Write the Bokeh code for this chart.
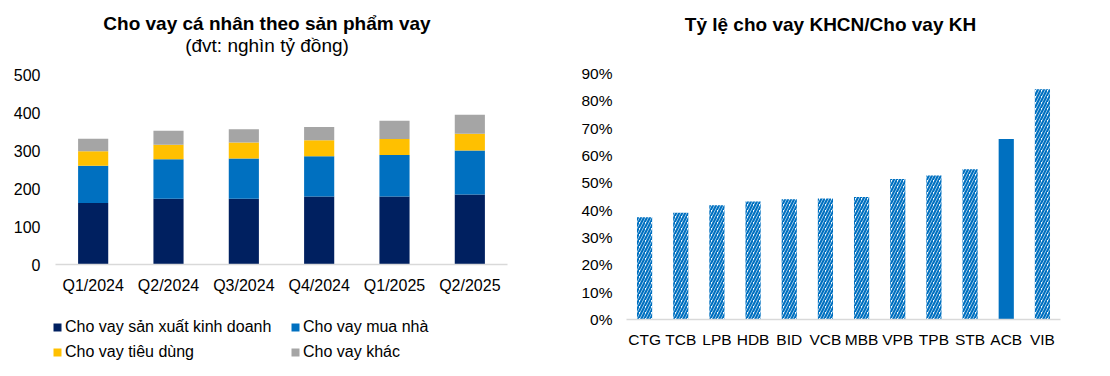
from bokeh.plotting import figure
from bokeh.models import (ColumnDataSource, Range1d, FactorRange, Legend, LegendItem,
                          Label, FixedTicker, NumeralTickFormatter)
from bokeh.layouts import row, column
from bokeh.embed import file_html
from bokeh.resources import INLINE

FONT = "Liberation Sans"

# ---------------- data ----------------
quarters = ["Q1/2024", "Q2/2024", "Q3/2024", "Q4/2024", "Q1/2025", "Q2/2025"]
sxkd = [162, 173, 173, 179, 179, 184]        # Cho vay sản xuất kinh doanh
mua_nha = [98, 104, 106, 106, 109, 116]      # Cho vay mua nhà
tieu_dung = [38, 38, 42, 42, 42, 44]         # Cho vay tiêu dùng
khac = [33, 37, 35, 35, 48, 50]              # Cho vay khác
left_ticks = [0, 100, 200, 300, 400, 500]

series_names = ["Cho vay sản xuất kinh doanh", "Cho vay mua nhà",
                "Cho vay tiêu dùng", "Cho vay khác"]
series_colors = ["#002060", "#0070C0", "#FFC000", "#A5A5A5"]

banks = ["CTG", "TCB", "LPB", "HDB", "BID", "VCB", "MBB", "VPB", "TPB", "STB", "ACB", "VIB"]
ratio_pct = [37.4, 39.1, 41.8, 43.2, 44.0, 44.3, 44.8, 51.4, 52.7, 55.0, 66.0, 84.2]
right_ticks_pct = [0, 10, 20, 30, 40, 50, 60, 70, 80, 90]
highlight = "ACB"

stack_fields = ["sxkd", "mua", "tieu", "khac"]

# ---------------- left chart ----------------
L_H, L_BOTTOM, L_TOP_TICK_PX = 300, 36, 74       # figure height, bottom border, pixel row of top tick
l_frame_h = L_H - L_BOTTOM
l_yend = left_ticks[-1] * l_frame_h / (l_frame_h - L_TOP_TICK_PX)

src = ColumnDataSource(dict(q=quarters, sxkd=sxkd, mua=mua_nha, tieu=tieu_dung, khac=khac))

p1 = figure(x_range=FactorRange(*quarters, range_padding=0), y_range=Range1d(0, l_yend),
            width=555, height=L_H, output_backend="svg", toolbar_location=None,
            min_border_left=55, min_border_right=48, min_border_top=0,
            min_border_bottom=L_BOTTOM)

rs = p1.vbar_stack(stack_fields, x="q", width=0.4, source=src,
                   fill_color=series_colors, line_color=None)

p1.yaxis.ticker = FixedTicker(ticks=left_ticks)
p1.yaxis.major_label_standoff = 15

p1.add_layout(Label(x=211.5, y=l_frame_h - 23, x_units="screen", y_units="screen",
                    text="Cho vay cá nhân theo sản phẩm vay", text_align="center",
                    text_baseline="middle", text_font=FONT, text_font_size="19px",
                    text_font_style="bold", text_color="#000000"))
p1.add_layout(Label(x=211.5, y=l_frame_h - 45, x_units="screen", y_units="screen",
                    text="(đvt: nghìn tỷ đồng)", text_align="center",
                    text_baseline="middle", text_font=FONT, text_font_size="19px",
                    text_color="#000000"))

# ---------------- legend panel (below left chart) ----------------
# same stacked renderers, hidden in this panel; only their legend swatches are shown
p_leg = figure(width=555, height=76, x_range=FactorRange(*quarters), y_range=Range1d(-2, -1),
               x_axis_type=None, y_axis_type=None, output_backend="svg",
               toolbar_location=None, min_border=0, outline_line_color=None)
p_leg.frame_align = False
p_leg.xgrid.grid_line_color = None
p_leg.ygrid.grid_line_color = None
leg_rs = p_leg.vbar_stack(stack_fields, x="q", width=0.4, source=src,
                          fill_color=series_colors, line_color=None)
for r in leg_rs:
    r.visible = False
order = [0, 2, 1, 3]
legend = Legend(items=[LegendItem(label=series_names[i], renderers=[leg_rs[i]]) for i in order],
                ncols=2, location=(52, 14), click_policy="none",
                label_text_font=FONT, label_text_font_size="16px", label_text_color="#000000",
                glyph_width=10, glyph_height=10, label_standoff=3, spacing=5,
                label_height=20, label_width=220, padding=0, margin=0,
                border_line_color=None, background_fill_alpha=0)
p_leg.add_layout(legend, "center")

# ---------------- right chart ----------------
ratio = [v / 100 for v in ratio_pct]
right_ticks = [t / 100 for t in right_ticks_pct]
R_H, R_BOTTOM, R_TOP_TICK_PX = 376, 57, 73
r_frame_h = R_H - R_BOTTOM
r_yend = right_ticks[-1] * r_frame_h / (r_frame_h - R_TOP_TICK_PX)

hatched = ColumnDataSource(dict(b=[b for b in banks if b != highlight],
                                v=[v for b, v in zip(banks, ratio) if b != highlight]))
solid = ColumnDataSource(dict(b=[b for b in banks if b == highlight],
                              v=[v for b, v in zip(banks, ratio) if b == highlight]))

p2 = figure(x_range=FactorRange(*banks, range_padding=0), y_range=Range1d(0, r_yend),
            width=555, height=R_H, output_backend="svg", toolbar_location=None,
            min_border_left=71, min_border_right=50, min_border_top=0,
            min_border_bottom=R_BOTTOM)

p2.vbar(x="b", top="v", width=0.42, source=hatched, fill_color="white", line_color=None,
        hatch_pattern="/", hatch_color="#0070C0", hatch_scale=6, hatch_weight=2.2)
p2.vbar(x="b", top="v", width=0.42, source=solid, fill_color="#0070C0", line_color=None)

p2.yaxis.ticker = FixedTicker(ticks=right_ticks)
p2.yaxis.formatter = NumeralTickFormatter(format="0%")
p2.yaxis.major_label_standoff = 14

p2.add_layout(Label(x=204, y=r_frame_h - 24, x_units="screen", y_units="screen",
                    text="Tỷ lệ cho vay KHCN/Cho vay KH", text_align="center",
                    text_baseline="middle", text_font=FONT, text_font_size="19px",
                    text_font_style="bold", text_color="#000000"))

# ---------------- common styling ----------------
for p, fs, xstand in ((p1, "16px", 12), (p2, "15.5px", 11)):
    p.xgrid.grid_line_color = None
    p.ygrid.grid_line_color = None
    p.outline_line_color = None
    p.background_fill_color = "white"
    p.border_fill_color = "white"
    p.yaxis.axis_line_color = None
    p.yaxis.major_tick_line_color = None
    p.yaxis.minor_tick_line_color = None
    p.yaxis.major_tick_out = 0
    p.yaxis.major_tick_in = 0
    p.xaxis.axis_line_color = "#D9D9D9"
    p.xaxis.axis_line_width = 1.5
    p.xaxis.major_tick_line_color = None
    p.xaxis.minor_tick_line_color = None
    p.xaxis.major_tick_out = 0
    p.xaxis.major_tick_in = 0
    p.xaxis.major_label_standoff = xstand
    for ax in (p.xaxis, p.yaxis):
        ax.major_label_text_font = FONT
        ax.major_label_text_font_size = fs
        ax.major_label_text_color = "#000000"

layout = row(column(p1, p_leg), p2)
open("out.html", "w").write(file_html(layout, INLINE))
